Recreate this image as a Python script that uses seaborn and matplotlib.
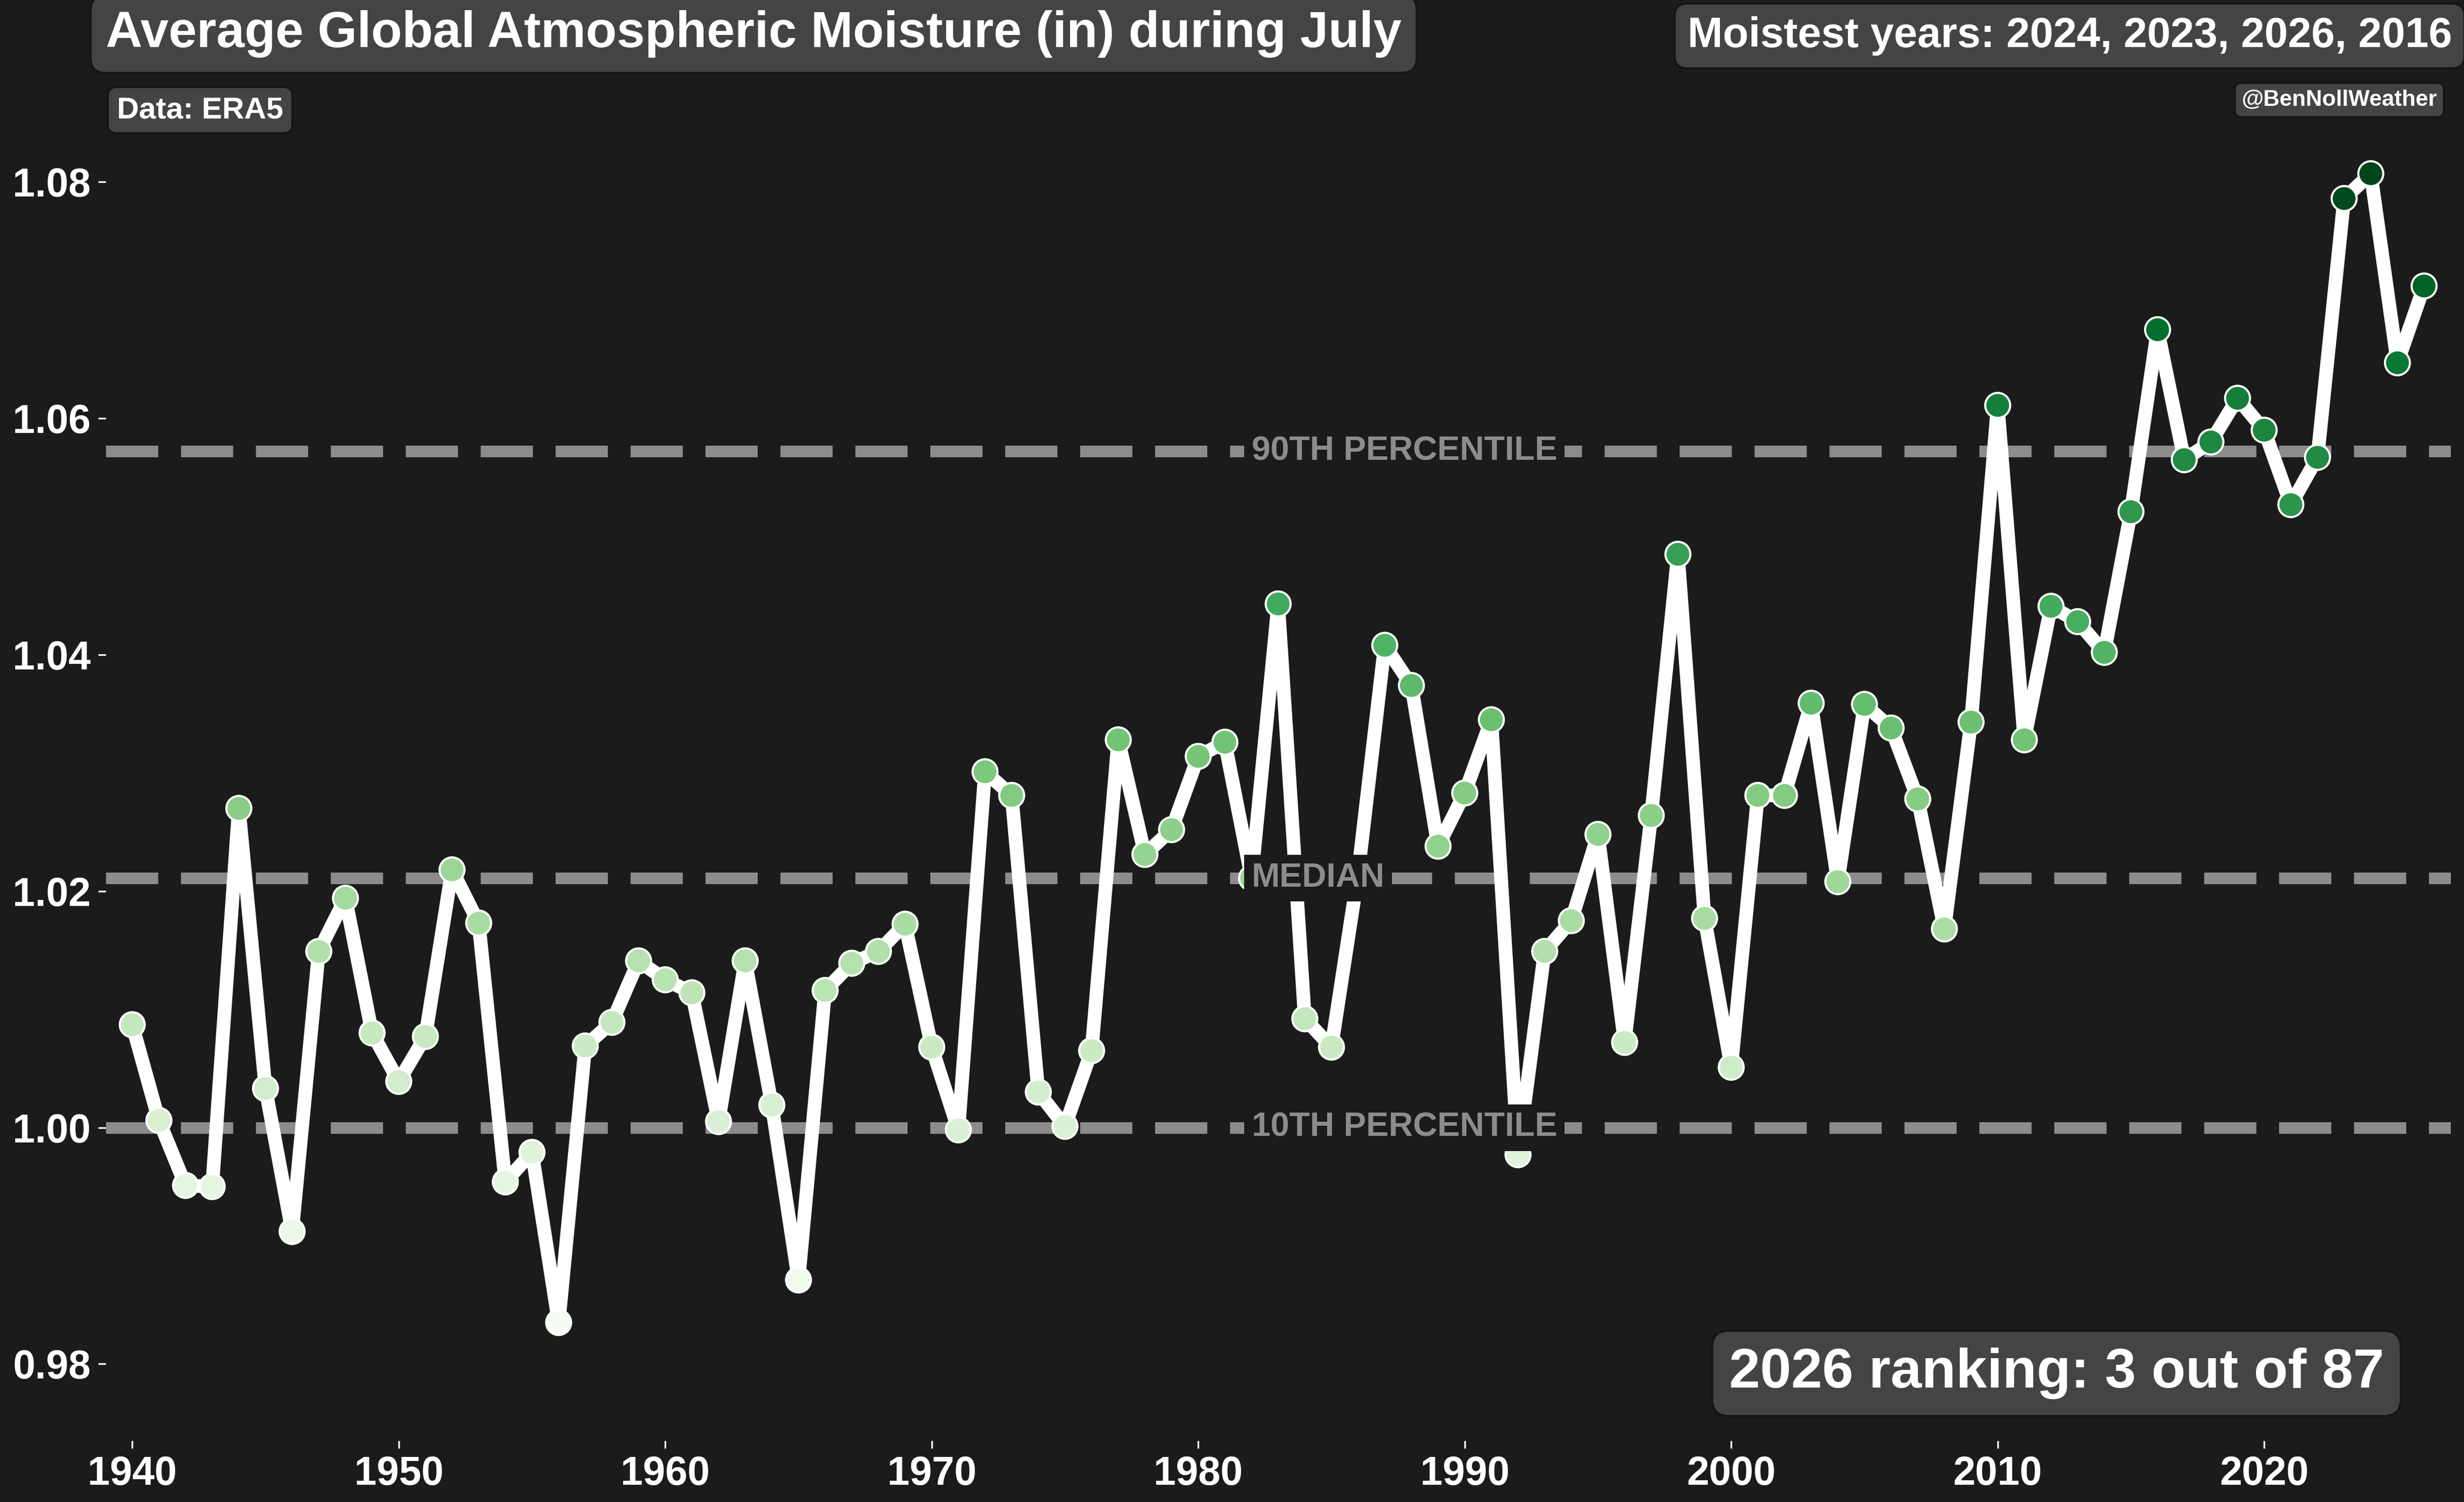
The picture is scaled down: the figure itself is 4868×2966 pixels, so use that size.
import numpy as np
import pandas as pd
import matplotlib
matplotlib.use("Agg")
import matplotlib.pyplot as plt
import seaborn as sns

# ---------------- data ----------------
years = list(range(1940, 2027))
moisture = [
    1.0087, 1.0006, 0.9951, 0.9950, 1.0270, 1.0033, 0.9912, 1.0149, 1.0194, 1.0080,  # 1940s
    1.0039, 1.0077, 1.0218, 1.0173, 0.9954, 0.9979, 0.9835, 1.0069, 1.0089, 1.0141,  # 1950s
    1.0125, 1.0114, 1.0005, 1.0141, 1.0019, 0.9871, 1.0116, 1.0139, 1.0149, 1.0172,  # 1960s
    1.0068, 0.9998, 1.0301, 1.0281, 1.0030, 1.0001, 1.0065, 1.0328, 1.0231, 1.0252,  # 1970s
    1.0314, 1.0326, 1.0211, 1.0443, 1.0092, 1.0068, 1.0215, 1.0408, 1.0374, 1.0238,  # 1980s
    1.0283, 1.0345, 0.9977, 1.0149, 1.0175, 1.0248, 1.0072, 1.0264, 1.0485, 1.0177,  # 1990s
    1.0051, 1.0281, 1.0281, 1.0359, 1.0208, 1.0358, 1.0338, 1.0278, 1.0168, 1.0343,  # 2000s
    1.0611, 1.0328, 1.0441, 1.0428, 1.0402, 1.0521, 1.0675, 1.0565, 1.0580, 1.0617,  # 2010s
    1.0590, 1.0527, 1.0567, 1.0786, 1.0807, 1.0647, 1.0712,                          # 2020s
]
x_ticks = [1940, 1950, 1960, 1970, 1980, 1990, 2000, 2010, 2020]
y_ticks = [0.98, 1.00, 1.02, 1.04, 1.06, 1.08]
pct_levels = [90, 50, 10]
pct_labels = ["90TH PERCENTILE", "MEDIAN", "10TH PERCENTILE"]
label_year = 1982

title_text = "Average Global Atmospheric Moisture (in) during July"
source_text = "Data: ERA5"
credit_text = "@BenNollWeather"

df = pd.DataFrame({"year": years, "value": moisture})
vals = df["value"].to_numpy()
order = np.argsort(-vals)
top4 = [years[i] for i in order[:4]]
rank_last = int(np.where(order == len(vals) - 1)[0][0]) + 1
moist_text = "Moistest years: " + ", ".join(str(y) for y in top4)
rank_text = f"{years[-1]} ranking: {rank_last} out of {len(vals)}"
pcts = np.percentile(vals, pct_levels)

# ---------------- style ----------------
BG = "#1b1b1b"
BOX = "#444444"
GREY = "#8c8c8c"
sns.set_style("dark", {"axes.facecolor": BG, "figure.facecolor": BG})
plt.rcParams["font.family"] = ["Liberation Sans", "DejaVu Sans"]
plt.rcParams["font.weight"] = "bold"

W, H = 4868, 2966
fig = plt.figure(figsize=(W / 300, H / 300), dpi=300, facecolor=BG)
ax = fig.add_axes([208.6 / W, 1 - 2845 / H, (4841.8 - 208.6) / W, (2845 - 109.6) / H])
ax.set_facecolor(BG)

for p in pcts:
    ax.axhline(p, color=GREY, lw=5.5, dashes=(4.5, 1.96), zorder=1)

sns.lineplot(data=df, x="year", y="value", color="white", lw=6.5, ax=ax, zorder=2)
sns.scatterplot(data=df, x="year", y="value", hue="value", palette="Greens",
                hue_norm=(vals.min(), vals.max()), s=140, edgecolor="white",
                linewidth=1.0, legend=False, ax=ax, zorder=3)

for p, lab in zip(pcts, pct_labels):
    ax.text(label_year, p, lab, ha="left", va="center", color=GREY, fontsize=16,
            fontweight="bold", zorder=5,
            bbox=dict(facecolor=BG, edgecolor="none", pad=3.5))

ax.set_xlim(1939, 2027)
ax.set_ylim(vals.min() - 0.01, vals.max() + 0.01)
ax.set_xticks(x_ticks)
ax.set_yticks(y_ticks)
ax.set_yticklabels([f"{v:.2f}" for v in y_ticks])
ax.set_xlabel("")
ax.set_ylabel("")
ax.grid(False)
for s in ax.spines.values():
    s.set_visible(False)
ax.tick_params(axis="both", colors="white", labelsize=19, width=0.8, length=3.5,
               bottom=True, left=True, direction="out")
for lbl in ax.get_xticklabels() + ax.get_yticklabels():
    lbl.set_fontweight("bold")

box = dict(boxstyle="round,pad=0.3", facecolor=BOX, edgecolor="#151515", lw=1)
fig.text(209 / W, 1 - 93 / H, title_text, ha="left", va="baseline", color="white",
         fontsize=24, fontweight="bold", bbox=box)
fig.text(4844 / W, 1 - 93 / H, moist_text, ha="right", va="baseline", color="white",
         fontsize=20, fontweight="bold", bbox=box)
fig.text(231 / W, 1 - 233 / H, source_text, ha="left", va="baseline", color="white",
         fontsize=14.5, fontweight="bold", bbox=box)
fig.text(4815 / W, 1 - 209 / H, credit_text, ha="right", va="baseline", color="white",
         fontsize=10.7, fontweight="bold", bbox=box)
fig.text(4710 / W, 1 - 2740 / H, rank_text, ha="right", va="baseline", color="white",
         fontsize=26.5, fontweight="bold", bbox=box)

fig.savefig("out.png", dpi=300, facecolor=BG)
